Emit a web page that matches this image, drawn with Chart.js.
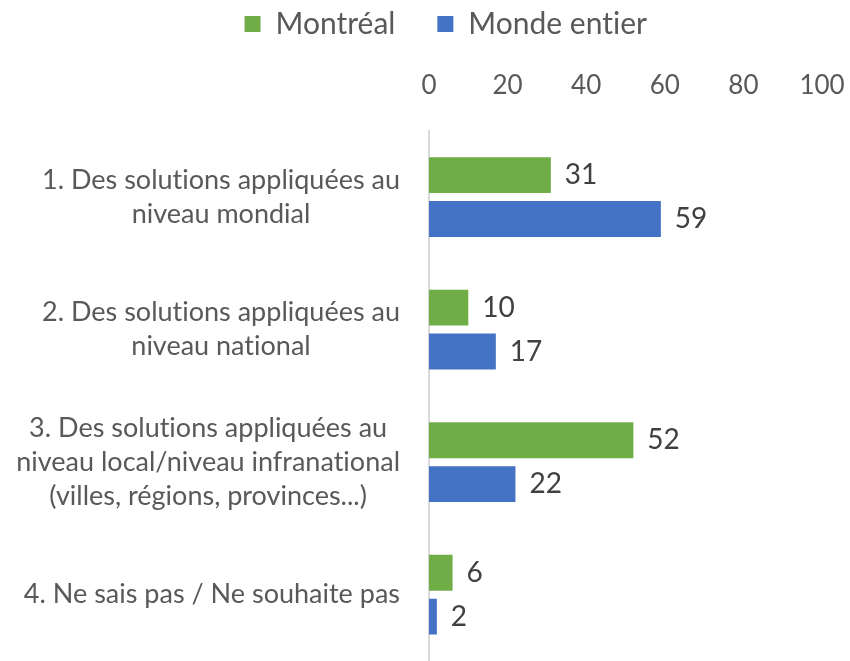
<!DOCTYPE html>
<html>
<head>
<meta charset="utf-8">
<script src="https://cdn.jsdelivr.net/npm/chart.js@4"></script>
<style>
  html, body { margin: 0; padding: 0; background: #fff; overflow: hidden; }
  #wrap { width: 850px; height: 661px; }
  canvas { display: block; }
</style>
</head>
<body>
<div id="wrap"><canvas id="chart"></canvas></div>
<script>
// data
const categories = [
    ['1. Des solutions appliquées au', 'niveau mondial'],
    ['2. Des solutions appliquées au', 'niveau national'],
    ['3. Des solutions appliquées au', 'niveau local/niveau infranational', '(villes, régions, provinces...)'],
    ['4. Ne sais pas / Ne souhaite pas']
];
const montreal = [31, 10, 52, 6];
const mondeEntier = [59, 17, 22, 2];
const xTicks = [0, 20, 40, 60, 80, 100];

const FONT = 'Lato, Carlito, Calibri, sans-serif';

// no ligatures (the original font has none)
const noLigatures = {
    id: 'noLigatures',
    beforeDraw(chart) {
        chart.ctx.textRendering = 'optimizeSpeed';
    }
};

// category labels: each block right aligned, its lines centered
const catLabels = {
    id: 'catLabels',
    afterDraw(chart) {
        const ctx = chart.ctx;
        const y = chart.scales.y;
        const right = chart.chartArea.left - 29;
        const lh = 34;
        ctx.save();
        ctx.textRendering = 'optimizeSpeed';
        ctx.font = '27px ' + FONT;
        ctx.fillStyle = '#595959';
        ctx.textAlign = 'center';
        ctx.textBaseline = 'middle';
        categories.forEach(function (lines, i) {
            const cy = y.getPixelForTick(i);
            let w = 0;
            lines.forEach(function (l) { w = Math.max(w, ctx.measureText(l).width); });
            const cx = right - w / 2;
            const top = cy - (lines.length - 1) * lh / 2;
            lines.forEach(function (l, j) {
                ctx.fillText(l, cx, top + j * lh);
            });
        });
        ctx.restore();
    }
};

// value labels at the end of each bar
const valueLabels = {
    id: 'valueLabels',
    afterDatasetsDraw(chart) {
        const ctx = chart.ctx;
        ctx.save();
        ctx.font = '28px ' + FONT;
        ctx.fillStyle = '#404040';
        ctx.textAlign = 'left';
        ctx.textBaseline = 'middle';
        chart.data.datasets.forEach(function (ds, di) {
            chart.getDatasetMeta(di).data.forEach(function (bar, i) {
                ctx.fillText(ds.data[i], bar.x + 14, bar.y);
            });
        });
        ctx.restore();
    }
};

new Chart(document.getElementById('chart'), {
    type: 'bar',
    data: {
        labels: categories,
        datasets: [
            { label: 'Montréal', data: montreal, backgroundColor: '#70AD47' },
            { label: 'Monde entier', data: mondeEntier, backgroundColor: '#4472C4' }
        ]
    },
    options: {
        indexAxis: 'y',
        responsive: true,
        maintainAspectRatio: false,
        animation: false,
        layout: { padding: { left: 70, right: 28, top: -33, bottom: 0 } },
        categoryPercentage: 0.662,
        barPercentage: 0.818,
        plugins: {
            legend: {
                position: 'top',
                labels: {
                    boxWidth: 16,
                    boxHeight: 16,
                    padding: 42,
                    color: '#595959',
                    font: { family: FONT, size: 30 }
                }
            },
            tooltip: { enabled: false }
        },
        scales: {
            x: {
                position: 'top',
                min: 0,
                max: 100,
                afterBuildTicks: function (scale) {
                    scale.ticks = xTicks.map(function (v) { return { value: v }; });
                },
                afterFit: function (scale) {
                    scale.paddingLeft = 0;
                    scale.paddingRight = 0;
                },
                grid: { display: false },
                border: { display: false },
                ticks: {
                    color: '#595959',
                    padding: 14,
                    font: { family: FONT, size: 26, lineHeight: 1.76 }
                }
            },
            y: {
                grid: { display: false },
                border: { display: true, color: '#D9D9D9', width: 2 },
                ticks: { display: false },
                afterFit: function (scale) { scale.width = 359; }
            }
        }
    },
    plugins: [noLigatures, catLabels, valueLabels]
});
</script>
</body>
</html>
